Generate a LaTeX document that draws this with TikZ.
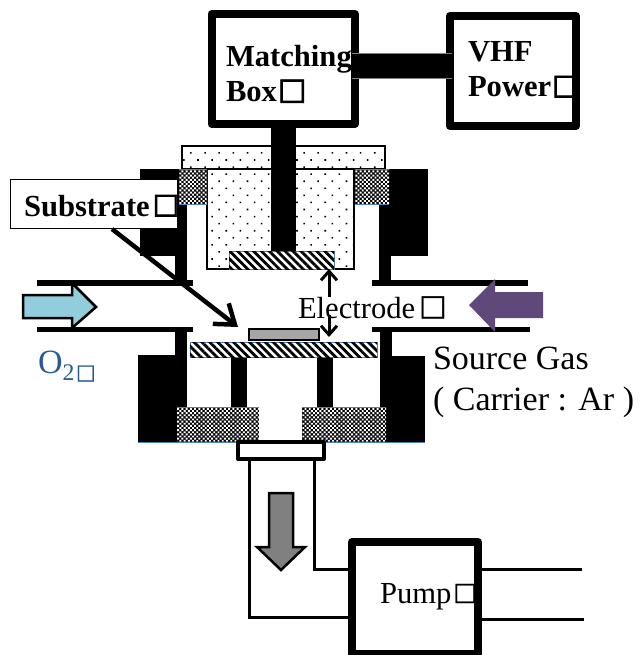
\documentclass[tikz,border=0pt]{standalone}
\usepackage{fontspec}
\setmainfont{Liberation Serif}
\newfontfamily\tofufont[FakeBold=1]{DejaVu Sans}
\newfontfamily\tofuheavy[FakeBold=3]{DejaVu Sans}
\usepackage{tikz}
\usetikzlibrary{positioning}
\usetikzlibrary{calc,arrows.meta,patterns.meta}

\definecolor{edgeblue}{HTML}{4F81BD}
\definecolor{labelblue}{HTML}{2A5A94}
\definecolor{oxygen}{HTML}{92CDDC}
\definecolor{sourcegas}{HTML}{5F497A}

\newcommand{\tofu}[2]{\raisebox{#2pt}{\tofufont\fontsize{#1}{35}\selectfont □}}
\newcommand{\tofubold}[2]{\raisebox{#2pt}{\tofuheavy\fontsize{#1}{35}\selectfont □}}

\tikzset{
  outerbox/.style={draw, line width=8pt, line join=round, fill=white, inner sep=0pt, outer sep=0pt},
  dotted block/.style={draw, line width=1.2pt, inner sep=0pt, outer sep=0pt,
    pattern={Dots[radius=1.1pt, distance=10pt, angle=45]}},
  hatched plate/.style={draw=edgeblue, line width=1pt, inner sep=0pt, outer sep=0pt, fill=white,
    postaction={pattern={Lines[angle=-45, distance=5.6pt, line width=2.8pt]}}},
  seal/.style={fill=black, inner sep=0pt, outer sep=0pt,
    postaction={pattern={Dots[radius=1.35pt, distance=3pt, angle=45]}, pattern color=white}},
  wall/.style={fill=black, inner sep=0pt, outer sep=0pt},
  txt/.style={inner sep=0pt, outer sep=0pt, font=\fontsize{30.6}{35}\selectfont, anchor=base west},
  boldtxt/.style={txt, font=\fontsize{30.6}{35}\selectfont\bfseries},
  bigtxt/.style={txt, font=\fontsize{34}{38}\selectfont},
  pipeline/.style={line width=3pt},
  tube/.style={line width=5.5pt},
  pointer/.style={line width=3pt, -{Straight Barb[length=9pt, width=16pt, line width=3pt]}},
  bigpointer/.style={line width=4.5pt, -{Straight Barb[length=18pt, width=26pt, line width=4.5pt]}},
  flow/.style={draw, line width=2.5pt, miter limit=10}
}

\begin{document}
\begin{tikzpicture}[x=1pt, y=-1pt]
    \useasboundingbox (0,0) rectangle (642,655);

    % Chamber walls
    \node [wall, minimum width=47pt, minimum height=87pt] (blockul) at (163.5,212.5) {};
    \node [wall, minimum width=12pt, minimum height=79pt] (wallul) at (181,243.5) {};
    \node [wall, minimum width=39pt, minimum height=87pt] (blockur) at (408.5,212.5) {};
    \node [wall, minimum width=12pt, minimum height=79pt] (wallur) at (385,243.5) {};
    \node [wall, minimum width=49pt, minimum height=87pt] (blockll) at (162.5,398.5) {};
    \node [wall, minimum width=12pt, minimum height=110pt] (wallll) at (181,387) {};
    \node [wall, minimum width=45pt, minimum height=86pt] (blocklr) at (402.5,399) {};
    \node [wall, minimum width=12pt, minimum height=110pt] (walllr) at (386,387) {};
    \node [wall, minimum width=16pt, minimum height=50pt] (postl) at (239,382) {};
    \node [wall, minimum width=16pt, minimum height=50pt] (postr) at (325,382) {};

    % Gas tubes
    \draw [tube] (37,283) -- (193,283);
    \draw [tube] (37,329.5) -- (193,329.5);
    \draw [tube] (372,283) -- (528,283);
    \draw [tube] (372,329.5) -- (530,329.5);

    % Upper electrode
    \node [dotted block, minimum width=203pt, minimum height=23pt] (topslab) at (283.5,157.5) {};
    \node [dotted block, fill=white, minimum width=147pt, minimum height=100pt] (innerblock) at (280.5,219) {};
    \node [dotted block, minimum width=147pt, minimum height=100pt] at (280.5,219) {};
    \node [seal, minimum width=28pt, minimum height=34pt] (sealul) at (193,187) {};
    \node [seal, minimum width=34pt, minimum height=34pt] (sealur) at (372,187) {};
    \draw [edgeblue, line width=1pt] (sealul.north west) -- (sealul.north east);
    \draw [edgeblue, line width=1pt] (sealul.south west) -- (sealul.south east);
    \draw [edgeblue, line width=1pt] (sealur.north west) -- (sealur.north east);
    \draw [edgeblue, line width=1pt] (sealur.south west) -- (sealur.south east);
    \node [hatched plate, minimum width=105pt, minimum height=18pt] (upperelec) at (281.5,260) {};

    % Lower electrode
    \node [draw, line width=1.5pt, fill=black!35, inner sep=0pt, minimum width=70pt, minimum height=11pt] (substrate) at (284,334.5) {};
    \node [hatched plate, minimum width=187pt, minimum height=15pt] (lowerelec) at (283.5,349.5) {};
    \node [seal, minimum width=82pt, minimum height=35pt] (seallb) at (218,424.5) {};
    \node [seal, minimum width=84pt, minimum height=35pt] (sealrb) at (344,424.5) {};
    \draw [edgeblue, line width=1pt] (seallb.north west) -- (seallb.north east);
    \draw [edgeblue, line width=1pt] (sealrb.north west) -- (sealrb.north east);
    \draw [edgeblue, line width=1pt] (blockll.south west) -- (blocklr.south east);
    \node [draw, line width=4pt, line join=round, fill=white, inner sep=0pt, minimum width=86pt, minimum height=17pt] (flange) at (281,450.5) {};

    % Boxes
    \node [outerbox, minimum width=143.5pt, minimum height=110pt] (matchbox) at (283.25,69) {};
    \node [outerbox, minimum width=126pt, minimum height=110pt] (vhfbox) at (513,71) {};
    \node [outerbox, minimum width=126pt, minimum height=112pt] (pumpbox) at (415,598) {};
    \node [draw, line width=1pt, fill=white, inner sep=0pt, minimum width=167pt, minimum height=49pt] (subbox) at (93.5,203.5) {};

    % Connectors
    \coordinate (barl) at (352,66);
    \coordinate (barr) at (452,66);
    \draw [black!50, line width=26pt] (barl) -- (barr);
    \draw [line width=24.5pt] (barl) -- (barr);
    \draw [line width=25pt] (matchbox.south) -- (matchbox.south |- upperelec.north);

    \coordinate (pipel) at (flange.south -| 249,0);
    \coordinate (piper) at (flange.south -| 314,0);
    \coordinate (pumpl) at (348,617);
    \coordinate (pumpr) at (348,569);
    \coordinate (outa) at (582,569);
    \coordinate (outb) at (584,619);
    \draw [pipeline] (pipel) |- (pumpl);
    \draw [pipeline] (piper) |- (pumpr);
    \draw [pipeline] (pumpbox.east |- outa) -- (outa);
    \draw [pipeline] (pumpbox.east |- outb) -- (outb);

    % Labels
    \node [boldtxt] (matchtxt) at (226,67) {Matching};
    \node [boldtxt] (boxtxt) at (226,102) {Box\hspace{1pt}\tofubold{30}{3}};
    \node [boldtxt] (vhftxt) at (468,62) {VHF};
    \node [boldtxt] (powertxt) at (468,97) {Power\hspace{1pt}\tofubold{28}{3}};
    \node [boldtxt] (subtxt) at (24,216) {Substrate\hspace{3pt}\tofubold{28}{3}};
    \node [txt] (electxt) at (298,318) {Electrode\hspace{4pt}\tofu{29}{3}};
    \node [bigtxt, text=labelblue] (otxt) at (38,373) {O\textsubscript{2}\hspace{1pt}\tofu{21}{-6}};
    \node [bigtxt] (gastxt) at (433,369) {Source Gas};
    \node [bigtxt] (carriertxt) at (433,410) {( Carrier : Ar )};
    \node [txt] (pumptxt) at (380,603) {Pump\hspace{2pt}\tofu{25}{3}};

    % Arrows
    \coordinate (elecup) at (329,297);
    \coordinate (elecdown) at (329,315);
    \coordinate (subfrom) at (112,229);
    \coordinate (subtip) at (238,327);
    \draw [pointer] (elecup) -- (upperelec.south -| elecup);
    \draw [pointer, shorten >=5pt] (elecdown) -- (lowerelec.north -| elecdown);
    \draw [bigpointer] (subfrom) -- (subtip);

    % Flow arrows
    \draw [flow, fill=oxygen] (23,295) -- (72,295) -- (72,283) -- (96,307) -- (72,328) -- (72,318) -- (23,318) -- cycle;
    \fill [sourcegas] (543,292) -- (495,292) -- (495,279) -- (469,305) -- (495,332) -- (495,318) -- (543,318) -- cycle;
    \draw [flow, fill=black!50] (269,493) -- (293,493) -- (293,547) -- (305,547) -- (281,570) -- (257,547) -- (269,547) -- cycle;
\end{tikzpicture}
\end{document}
